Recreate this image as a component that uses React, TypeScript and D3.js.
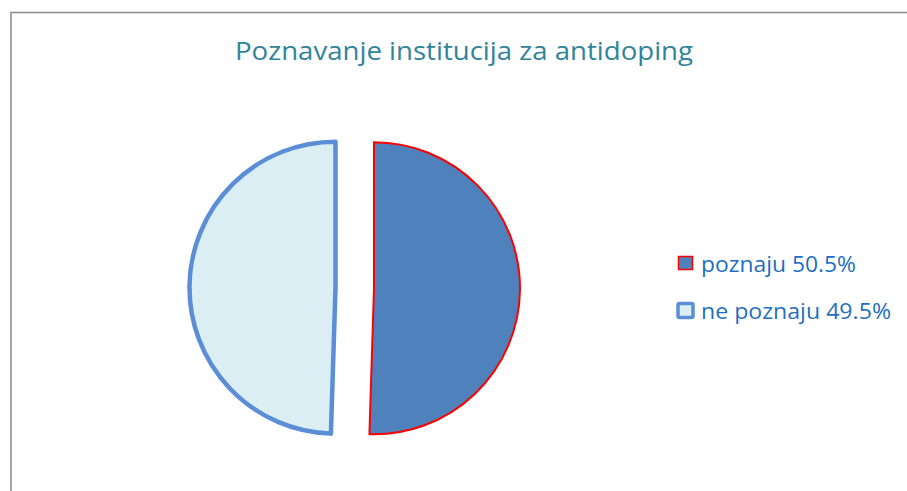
import React from "react";
import * as d3 from "d3";

const categories = ["poznaju", "ne poznaju"];
const values = [50.5, 49.5];
const legendLabels = ["poznaju 50.5%", "ne poznaju 49.5%"];
const fills = ["#4F81BD", "#DAEEF3"];
const strokes = ["#FF0000", "#5B8ED6"];
const strokeWidths = [2, 4.5];

const legendWidths = [155, 190];

export default function App() {
  const W = 907, H = 491;
  const cx = 354.75, cy = 288, r = 146, explode = 19.25;
  const pie = d3.pie<number>().sort(null).value((d) => d);
  const arcs = pie(values);
  const arc = d3.arc<d3.PieArcDatum<number>>().innerRadius(0).outerRadius(r);
  return (
    <svg width={W} height={H} style={{ position: "absolute", left: 0, top: 0 }}>
      <rect x={0} y={0} width={W} height={H} fill="#fff" />
      <path d={`M11,${H} L11,12.5 L${W},12.5`} fill="none" stroke="#8c8c8c" strokeWidth={1.5} />
      <text x={235} y={60} textLength={458} lengthAdjust="spacingAndGlyphs"
        fontFamily="Open Sans, Carlito, sans-serif" fontSize={26} fill="#31849B">
        Poznavanje institucija za antidoping
      </text>
      {arcs.map((a, i) => {
        const mid = (a.startAngle + a.endAngle) / 2;
        const dx = Math.sin(mid) * explode;
        const dy = -Math.cos(mid) * explode;
        return (
          <path key={categories[i]} d={arc(a) || ""} transform={`translate(${cx + dx},${cy + dy})`}
            fill={fills[i]} stroke={strokes[i]} strokeWidth={strokeWidths[i]} strokeLinejoin="round" />
        );
      })}
      {legendLabels.map((l, i) => (
        <g key={l} transform={`translate(0,${i * 47})`}>
          {i === 0 ? (
            <rect x={678.5} y={256.5} width={14} height={13} fill={fills[i]} stroke={strokes[i]} strokeWidth={1.5} />
          ) : (
            <rect x={678} y={256.5} width={15} height={14} rx={1.5} fill={fills[i]} stroke={strokes[i]} strokeWidth={3.5} />
          )}
          <text x={701} y={271.5} textLength={legendWidths[i]} lengthAdjust="spacingAndGlyphs"
            fontFamily="Open Sans, Carlito, sans-serif" fontSize={22} fill="#1F6FBF">{l}</text>
        </g>
      ))}
    </svg>
  );
}
